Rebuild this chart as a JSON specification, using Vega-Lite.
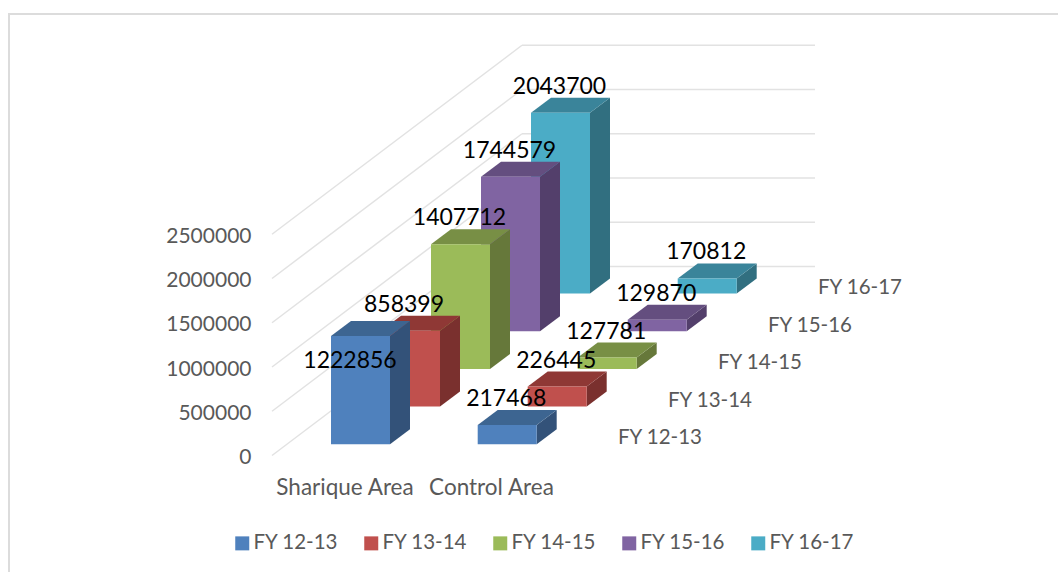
{"$schema":"https://vega.github.io/schema/vega-lite/v6.json","width":1060,"height":600,"autosize":{"type":"none"},"padding":{"left":9,"top":14,"right":0,"bottom":0},"background":"#ffffff","config":{"view":{"stroke":"#dcdcdc","strokeWidth":2},"font":"Lato","text":{"font":"Lato"}},"datasets":{"bars":[{"area":"Sharique Area","series":"FY 12-13","value":1222856},{"area":"Sharique Area","series":"FY 13-14","value":858399},{"area":"Sharique Area","series":"FY 14-15","value":1407712},{"area":"Sharique Area","series":"FY 15-16","value":1744579},{"area":"Sharique Area","series":"FY 16-17","value":2043700},{"area":"Control Area","series":"FY 12-13","value":217468},{"area":"Control Area","series":"FY 13-14","value":226445},{"area":"Control Area","series":"FY 14-15","value":127781},{"area":"Control Area","series":"FY 15-16","value":129870},{"area":"Control Area","series":"FY 16-17","value":170812}],"ticks":[{"v":0},{"v":500000},{"v":1000000},{"v":1500000},{"v":2000000},{"v":2500000}],"seriesNames":[{"series":"FY 12-13","d":0},{"series":"FY 13-14","d":1},{"series":"FY 14-15","d":2},{"series":"FY 15-16","d":3},{"series":"FY 16-17","d":4}],"areaNames":[{"area":"Sharique Area","cx":345},{"area":"Control Area","cx":491.5}]},"layer":[{"data":{"name":"ticks"},"transform":[{"calculate":"datum.v+2135600","as":"vb"},{"calculate":"272","as":"x1"},{"calculate":"522","as":"x2"}],"mark":{"type":"rule","color":"#e2e2e2","strokeWidth":1.5},"encoding":{"x":{"field":"x1","type":"quantitative","scale":{"domain":[9,1069],"nice":false,"zero":false},"axis":null},"x2":{"field":"x2"},"y":{"field":"v","type":"quantitative","scale":{"domain":[-1790955,4988701],"nice":false,"zero":false},"axis":{"title":null,"values":[0,500000,1000000,1500000,2000000,2500000],"format":"d","offset":-242,"ticks":false,"domain":false,"grid":false,"labelPadding":0,"labelOffset":2,"labelFont":"Lato","labelFontSize":21,"labelColor":"#595959"}},"y2":{"field":"vb"}}},{"data":{"name":"ticks"},"transform":[{"calculate":"datum.v+2135600","as":"vb"},{"calculate":"522","as":"x1"},{"calculate":"815","as":"x2"}],"mark":{"type":"rule","color":"#e2e2e2","strokeWidth":1.5},"encoding":{"x":{"field":"x1","type":"quantitative","axis":null},"x2":{"field":"x2"},"y":{"field":"vb","type":"quantitative"}}},{"data":{"name":"bars"},"transform":[{"calculate":"indexof(['FY 12-13','FY 13-14','FY 14-15','FY 15-16','FY 16-17'],datum.series)","as":"d"},{"calculate":"datum.area==='Control Area'?1:0","as":"a"},{"calculate":"331+146.7*datum.a+50*datum.d","as":"xl"},{"calculate":"datum.xl+59","as":"xr"},{"calculate":"126500+426000*datum.d","as":"base"},{"calculate":"datum.base+datum.value","as":"top"},{"calculate":"datum.xl+29.5","as":"xc"}],"layer":[{"transform":[{"filter":"datum.d==4"}],"layer":[{"transform":[{"calculate":"[0,1]","as":"t"},{"flatten":["t"]},{"calculate":"datum.xr+20*datum.t","as":"px"},{"calculate":"datum.base+169500*datum.t","as":"p1"},{"calculate":"datum.top+169500*datum.t","as":"p2"}],"mark":{"type":"area","color":"#316F80"},"encoding":{"x":{"field":"px","type":"quantitative","axis":null},"y":{"field":"p1","type":"quantitative"},"y2":{"field":"p2"},"detail":{"field":"area"}}},{"transform":[{"calculate":"[0,1]","as":"t"},{"flatten":["t"]},{"calculate":"datum.xl+20*datum.t","as":"p1"},{"calculate":"datum.xr+20*datum.t","as":"p2"},{"calculate":"datum.top+169500*datum.t","as":"py"}],"mark":{"type":"area","orient":"horizontal","color":"#3A849A"},"encoding":{"y":{"field":"py","type":"quantitative"},"x":{"field":"p1","type":"quantitative","axis":null},"x2":{"field":"p2"},"detail":{"field":"area"}}},{"mark":{"type":"rect"},"encoding":{"x":{"field":"xl","type":"quantitative","axis":null},"x2":{"field":"xr"},"y":{"field":"base","type":"quantitative"},"y2":{"field":"top"},"color":{"field":"series","type":"nominal","scale":{"domain":["FY 12-13","FY 13-14","FY 14-15","FY 15-16","FY 16-17"],"range":["#4F81BD","#C0504D","#9BBB59","#8064A2","#4BACC6"]},"legend":{"title":null,"orient":"none","direction":"horizontal","columns":5,"legendX":223,"legendY":519,"padding":0,"symbolType":"square","symbolSize":196,"symbolStrokeWidth":0,"labelFont":"Lato","labelFontSize":20.5,"labelColor":"#595959","labelOffset":1,"columnPadding":22}}}}]},{"transform":[{"filter":"datum.d==3"}],"layer":[{"transform":[{"calculate":"[0,1]","as":"t"},{"flatten":["t"]},{"calculate":"datum.xr+20*datum.t","as":"px"},{"calculate":"datum.base+169500*datum.t","as":"p1"},{"calculate":"datum.top+169500*datum.t","as":"p2"}],"mark":{"type":"area","color":"#533F6B"},"encoding":{"x":{"field":"px","type":"quantitative","axis":null},"y":{"field":"p1","type":"quantitative"},"y2":{"field":"p2"},"detail":{"field":"area"}}},{"transform":[{"calculate":"[0,1]","as":"t"},{"flatten":["t"]},{"calculate":"datum.xl+20*datum.t","as":"p1"},{"calculate":"datum.xr+20*datum.t","as":"p2"},{"calculate":"datum.top+169500*datum.t","as":"py"}],"mark":{"type":"area","orient":"horizontal","color":"#644E7F"},"encoding":{"y":{"field":"py","type":"quantitative"},"x":{"field":"p1","type":"quantitative","axis":null},"x2":{"field":"p2"},"detail":{"field":"area"}}},{"mark":{"type":"rect"},"encoding":{"x":{"field":"xl","type":"quantitative","axis":null},"x2":{"field":"xr"},"y":{"field":"base","type":"quantitative"},"y2":{"field":"top"},"color":{"field":"series","type":"nominal"}}}]},{"transform":[{"filter":"datum.d==2"}],"layer":[{"transform":[{"calculate":"[0,1]","as":"t"},{"flatten":["t"]},{"calculate":"datum.xr+20*datum.t","as":"px"},{"calculate":"datum.base+169500*datum.t","as":"p1"},{"calculate":"datum.top+169500*datum.t","as":"p2"}],"mark":{"type":"area","color":"#66783A"},"encoding":{"x":{"field":"px","type":"quantitative","axis":null},"y":{"field":"p1","type":"quantitative"},"y2":{"field":"p2"},"detail":{"field":"area"}}},{"transform":[{"calculate":"[0,1]","as":"t"},{"flatten":["t"]},{"calculate":"datum.xl+20*datum.t","as":"p1"},{"calculate":"datum.xr+20*datum.t","as":"p2"},{"calculate":"datum.top+169500*datum.t","as":"py"}],"mark":{"type":"area","orient":"horizontal","color":"#788F45"},"encoding":{"y":{"field":"py","type":"quantitative"},"x":{"field":"p1","type":"quantitative","axis":null},"x2":{"field":"p2"},"detail":{"field":"area"}}},{"mark":{"type":"rect"},"encoding":{"x":{"field":"xl","type":"quantitative","axis":null},"x2":{"field":"xr"},"y":{"field":"base","type":"quantitative"},"y2":{"field":"top"},"color":{"field":"series","type":"nominal"}}}]},{"transform":[{"filter":"datum.d==1"}],"layer":[{"transform":[{"calculate":"[0,1]","as":"t"},{"flatten":["t"]},{"calculate":"datum.xr+20*datum.t","as":"px"},{"calculate":"datum.base+169500*datum.t","as":"p1"},{"calculate":"datum.top+169500*datum.t","as":"p2"}],"mark":{"type":"area","color":"#7A302E"},"encoding":{"x":{"field":"px","type":"quantitative","axis":null},"y":{"field":"p1","type":"quantitative"},"y2":{"field":"p2"},"detail":{"field":"area"}}},{"transform":[{"calculate":"[0,1]","as":"t"},{"flatten":["t"]},{"calculate":"datum.xl+20*datum.t","as":"p1"},{"calculate":"datum.xr+20*datum.t","as":"p2"},{"calculate":"datum.top+169500*datum.t","as":"py"}],"mark":{"type":"area","orient":"horizontal","color":"#8F3835"},"encoding":{"y":{"field":"py","type":"quantitative"},"x":{"field":"p1","type":"quantitative","axis":null},"x2":{"field":"p2"},"detail":{"field":"area"}}},{"mark":{"type":"rect"},"encoding":{"x":{"field":"xl","type":"quantitative","axis":null},"x2":{"field":"xr"},"y":{"field":"base","type":"quantitative"},"y2":{"field":"top"},"color":{"field":"series","type":"nominal"}}}]},{"transform":[{"filter":"datum.d==0"}],"layer":[{"transform":[{"calculate":"[0,1]","as":"t"},{"flatten":["t"]},{"calculate":"datum.xr+20*datum.t","as":"px"},{"calculate":"datum.base+169500*datum.t","as":"p1"},{"calculate":"datum.top+169500*datum.t","as":"p2"}],"mark":{"type":"area","color":"#335279"},"encoding":{"x":{"field":"px","type":"quantitative","axis":null},"y":{"field":"p1","type":"quantitative"},"y2":{"field":"p2"},"detail":{"field":"area"}}},{"transform":[{"calculate":"[0,1]","as":"t"},{"flatten":["t"]},{"calculate":"datum.xl+20*datum.t","as":"p1"},{"calculate":"datum.xr+20*datum.t","as":"p2"},{"calculate":"datum.top+169500*datum.t","as":"py"}],"mark":{"type":"area","orient":"horizontal","color":"#3D6591"},"encoding":{"y":{"field":"py","type":"quantitative"},"x":{"field":"p1","type":"quantitative","axis":null},"x2":{"field":"p2"},"detail":{"field":"area"}}},{"mark":{"type":"rect"},"encoding":{"x":{"field":"xl","type":"quantitative","axis":null},"x2":{"field":"xr"},"y":{"field":"base","type":"quantitative"},"y2":{"field":"top"},"color":{"field":"series","type":"nominal"}}}]},{"transform":[{"filter":"!(datum.a==0&&datum.d<2)"}],"mark":{"type":"text","font":"Lato","fontSize":23,"color":"#000000","dy":-26,"dx":-1},"encoding":{"x":{"field":"xc","type":"quantitative","axis":null},"y":{"field":"top","type":"quantitative"},"text":{"field":"value","type":"nominal"}}},{"transform":[{"filter":"datum.a==0&&datum.d==1"}],"mark":{"type":"text","font":"Lato","fontSize":23,"color":"#000000","dy":-26,"dx":-6.5},"encoding":{"x":{"field":"xc","type":"quantitative","axis":null},"y":{"field":"top","type":"quantitative"},"text":{"field":"value","type":"nominal"}}},{"transform":[{"filter":"datum.a==0&&datum.d==0"}],"mark":{"type":"text","font":"Lato","fontSize":23,"color":"#000000","dy":25,"dx":-10.5},"encoding":{"x":{"field":"xc","type":"quantitative","axis":null},"y":{"field":"top","type":"quantitative"},"text":{"field":"value","type":"nominal"}}}]},{"data":{"name":"seriesNames"},"transform":[{"calculate":"618+50*datum.d","as":"lx"},{"calculate":"(455.5-438+37.5*datum.d)*11299.4","as":"ly"}],"mark":{"type":"text","align":"left","font":"Lato","fontSize":20.5,"color":"#595959"},"encoding":{"x":{"field":"lx","type":"quantitative","axis":null},"y":{"field":"ly","type":"quantitative"},"text":{"field":"series","type":"nominal"}}},{"data":{"name":"areaNames"},"transform":[{"calculate":"-362000","as":"ly"}],"mark":{"type":"text","font":"Lato","fontSize":22.5,"color":"#595959"},"encoding":{"x":{"field":"cx","type":"quantitative","axis":null},"y":{"field":"ly","type":"quantitative"},"text":{"field":"area","type":"nominal"}}}]}
